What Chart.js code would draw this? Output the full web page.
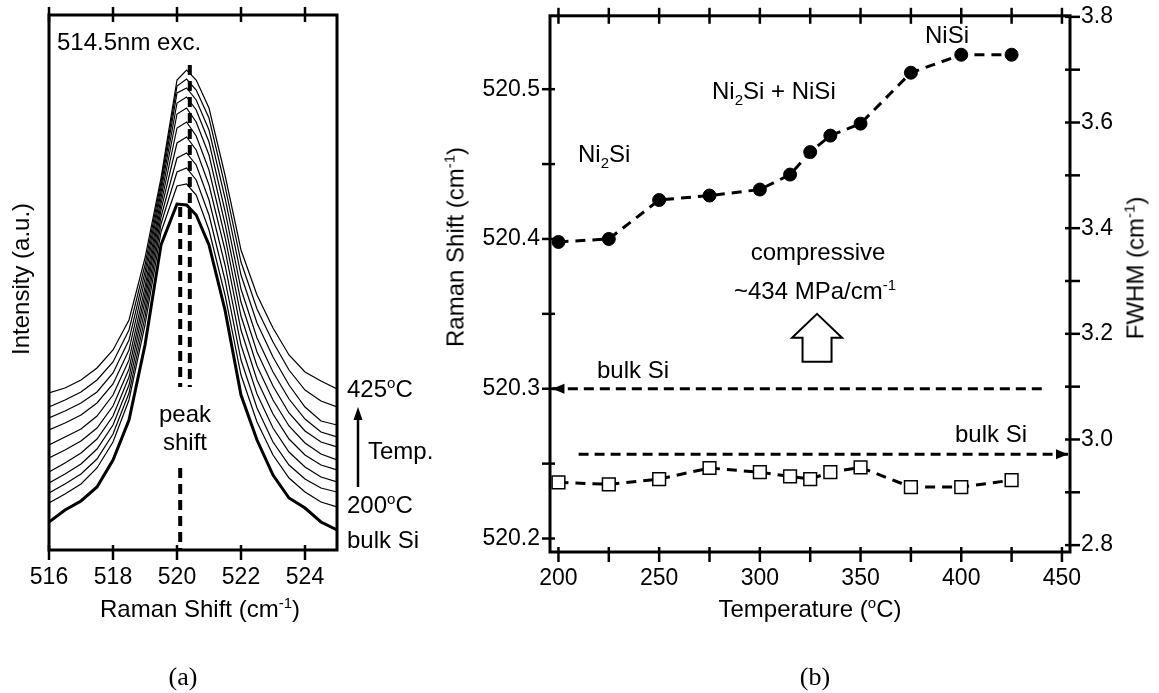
<!DOCTYPE html>
<html>
<head>
<meta charset="utf-8">
<script src="https://cdn.jsdelivr.net/npm/chart.js@4.4.1/dist/chart.umd.min.js"></script>
<style>
  body { margin: 0; background: #fff; }
  #wrap { position: relative; width: 1159px; height: 693px; overflow: hidden; }
  canvas { position: absolute; top: 0; }
  #chartA { left: 0; }
  #chartB { left: 440px; }
  .t { position: absolute; font: 24px "Liberation Sans", Arial, sans-serif; line-height: 24px; white-space: nowrap; color: #000; }
  .c { transform: translateX(-50%); text-align: center; }
  .r { transform: translate(-50%, -50%) rotate(-90deg); }
  .sup { font-size: 15px; position: relative; top: -9px; }
  .sub { font-size: 15px; position: relative; top: 6px; }
  .lab { position: absolute; font: 26px "Liberation Serif", "Times New Roman", serif; transform: translate(-50%, -50%); }
</style>
</head>
<body>
<div id="wrap">
  <canvas id="chartA" width="440" height="693"></canvas>
  <canvas id="chartB" width="719" height="693"></canvas>

  <div class="t" style="left:57px; top:30px">514.5nm exc.</div>
  <div class="t c" style="left:185px; top:400px; line-height:28px">peak<br>shift</div>
  <div class="t" style="left:347px; top:377px">425<span class="sup">o</span>C</div>
  <div class="t" style="left:368px; top:439px">Temp.</div>
  <div class="t" style="left:347px; top:493px">200<span class="sup">o</span>C</div>
  <div class="t" style="left:347px; top:528px">bulk Si</div>
  <svg style="position:absolute; left:350px; top:400px" width="16" height="90">
    <line x1="8" y1="18" x2="8" y2="87" stroke="#000" stroke-width="2.5"/>
    <polygon points="8,7 3.5,20 12.5,20" fill="#000"/>
  </svg>
  <div class="t c" style="left:200px; top:597px">Raman Shift (cm<span class="sup">-1</span>)</div>
  <div class="t r" style="left:21px; top:279px">Intensity (a.u.)</div>

  <div class="t" style="left:578px; top:142px">Ni<span class="sub">2</span>Si</div>
  <div class="t" style="left:712px; top:79px">Ni<span class="sub">2</span>Si + NiSi</div>
  <div class="t" style="left:925px; top:23px">NiSi</div>
  <div class="t c" style="left:818px; top:240px">compressive</div>
  <div class="t c" style="left:815px; top:279px">~434 MPa/cm<span class="sup">-1</span></div>
  <div class="t" style="left:597px; top:358px">bulk Si</div>
  <div class="t" style="left:955px; top:422px">bulk Si</div>
  <div class="t c" style="left:810px; top:597px">Temperature (<span class="sup">o</span>C)</div>
  <div class="t r" style="left:457px; top:247px">Raman Shift (cm<span class="sup">-1</span>)</div>
  <div class="t r" style="left:1137px; top:268px">FWHM (cm<span class="sup">-1</span>)</div>

  <div class="lab" style="left:183px; top:677px">(a)</div>
  <div class="lab" style="left:815px; top:677px">(b)</div>
</div>

<script>
// (a) Raman spectra, intensity in arbitrary units
const ramanGrid = [516, 516.5, 517, 517.5, 518, 518.5, 519, 519.5, 520, 520.3, 520.6, 521, 521.5, 522, 522.5, 523, 523.5, 524, 524.5, 525];
const ramanTicks = [516, 518, 520, 522, 524];

const specBulk = [28, 40, 49, 63, 90, 130, 205, 305, 346, 345, 335, 305, 240, 155, 110, 75, 52, 42, 28, 20];
const spec200 = [47, 56, 66, 82, 108, 150, 225, 318, 364, 366, 355, 320, 255, 175, 128, 95, 72, 58, 48, 43];
const spec225 = [57, 66, 76, 91, 116, 157, 233, 326, 378, 382, 370, 335, 270, 190, 142, 108, 85, 71, 62, 58];
const spec250 = [67, 76, 86, 101, 125, 165, 241, 333, 392, 397, 385, 350, 285, 205, 156, 122, 98, 83, 73, 68];
const spec275 = [78, 87, 97, 111, 134, 173, 249, 340, 407, 413, 400, 365, 300, 220, 170, 136, 111, 95, 85, 80];
const spec300 = [92, 100, 109, 122, 144, 181, 256, 346, 422, 428, 414, 380, 313, 234, 184, 150, 124, 107, 96, 90];
const spec325 = [105, 113, 121, 134, 155, 190, 263, 352, 436, 442, 428, 395, 326, 248, 198, 164, 137, 119, 108, 103];
const spec350 = [120, 127, 135, 147, 166, 200, 271, 358, 447, 453, 440, 408, 339, 261, 212, 178, 151, 131, 118, 113];
const spec375 = [132, 139, 147, 158, 177, 210, 278, 363, 457, 462, 450, 420, 352, 275, 227, 193, 165, 143, 129, 125];
const spec400 = [143, 150, 158, 170, 188, 220, 285, 368, 464, 471, 460, 432, 364, 288, 241, 208, 180, 160, 149, 143];
const spec425 = [157, 162, 170, 182, 200, 230, 292, 372, 470, 480, 470, 442, 375, 300, 255, 222, 195, 178, 169, 161];

// peak position markers (x = cm-1, y = intensity span)
const peakBulkUpper = [{ x: 520.1, y: 343 }, { x: 520.1, y: 163 }];
const peakBulkLower = [{ x: 520.1, y: 82 }, { x: 520.1, y: 0 }];
const peakFilm = [{ x: 520.4, y: 485 }, { x: 520.4, y: 163 }];

// (b) Raman shift and FWHM vs anneal temperature
const temps = [200, 225, 250, 275, 300, 315, 325, 335, 350, 375, 400, 425];
const ramanShift = [520.398, 520.4, 520.426, 520.429, 520.433, 520.443, 520.458, 520.469, 520.477, 520.511, 520.523, 520.523];
const fwhm = [2.919, 2.915, 2.925, 2.946, 2.938, 2.93, 2.925, 2.938, 2.947, 2.91, 2.91, 2.923];

const tempTicks = [200, 225, 250, 275, 300, 325, 350, 375, 400, 425, 450];
const tempTickLabels = ["200", "", "250", "", "300", "", "350", "", "400", "", "450"];
const shiftTicks = [520.2, 520.25, 520.3, 520.35, 520.4, 520.45, 520.5];
const shiftTickLabels = ["520.2", "", "520.3", "", "520.4", "", "520.5"];
const fwhmTicks = [2.8, 2.9, 3.0, 3.1, 3.2, 3.3, 3.4, 3.5, 3.6, 3.7, 3.8];
const fwhmTickLabels = ["2.8", "", "3.0", "", "3.2", "", "3.4", "", "3.6", "", "3.8"];

const bulkSiShift = [{ x: 440, y: 520.3 }, { x: 197, y: 520.3 }];
const bulkSiFwhm = [{ x: 210, y: 2.972 }, { x: 453, y: 2.972 }];

const tickFont = { family: "'Liberation Sans', Arial, sans-serif", size: 23 };

// box around plot area + ticks crossing the axis lines
const frameTicks = {
  id: "frameTicks",
  afterDatasetsDraw(chart, args, opts) {
    const { ctx, chartArea: a } = chart;
    ctx.save();
    ctx.strokeStyle = "#000";
    ctx.lineWidth = 2.5;
    (opts.marks || []).forEach((m) => {
      const scale = chart.scales[m.scale];
      scale.ticks.forEach((t) => {
        const p = scale.getPixelForValue(t.value);
        ctx.beginPath();
        if (m.side === "bottom") { ctx.moveTo(p, a.bottom - m.inner); ctx.lineTo(p, a.bottom + m.outer); }
        if (m.side === "top") { ctx.moveTo(p, a.top + m.inner); ctx.lineTo(p, a.top - m.outer); }
        if (m.side === "left") { ctx.moveTo(a.left + m.inner, p); ctx.lineTo(a.left - m.outer, p); }
        if (m.side === "right") { ctx.moveTo(a.right - m.inner, p); ctx.lineTo(a.right + m.outer, p); }
        ctx.stroke();
      });
    });
    ctx.lineWidth = 3;
    ctx.strokeRect(a.left, a.top, a.right - a.left, a.bottom - a.top);
    ctx.restore();
  },
};

// arrow heads on the "bulk Si" lines and the open "compressive" arrow
const arrowMarks = {
  id: "arrowMarks",
  afterDatasetsDraw(chart, args, opts) {
    const { ctx } = chart;
    ctx.save();
    ctx.fillStyle = "#000";
    opts.heads.forEach((i) => {
      const pts = chart.getDatasetMeta(i).data;
      const tip = pts[pts.length - 1];
      const from = pts[pts.length - 2];
      ctx.save();
      ctx.translate(tip.x, tip.y);
      ctx.rotate(Math.atan2(tip.y - from.y, tip.x - from.x));
      ctx.beginPath();
      ctx.moveTo(0, 0);
      ctx.lineTo(-12, -5);
      ctx.lineTo(-12, 5);
      ctx.closePath();
      ctx.fill();
      ctx.restore();
    });

    const x = chart.scales.x.getPixelForValue(opts.open.x);
    const y = chart.scales.y.getPixelForValue(opts.open.y);
    ctx.strokeStyle = "#000";
    ctx.lineWidth = 2;
    ctx.fillStyle = "#fff";
    ctx.beginPath();
    ctx.moveTo(x, y);
    ctx.lineTo(x + 25, y + 24);
    ctx.lineTo(x + 14.5, y + 24);
    ctx.lineTo(x + 14.5, y + 48);
    ctx.lineTo(x - 14.5, y + 48);
    ctx.lineTo(x - 14.5, y + 24);
    ctx.lineTo(x - 25, y + 24);
    ctx.closePath();
    ctx.fill();
    ctx.stroke();
    ctx.restore();
  },
};

const specList = [spec425, spec400, spec375, spec350, spec325, spec300, spec275, spec250, spec225, spec200];
const toPoints = (arr) => arr.map((v, i) => ({ x: ramanGrid[i], y: v }));

const specSets = specList.map((s) => ({
  data: toPoints(s),
  borderColor: "#000",
  borderWidth: 1.2,
  pointRadius: 0,
}));
specSets.push({ data: toPoints(specBulk), borderColor: "#000", borderWidth: 3, pointRadius: 0 });
[peakBulkUpper, peakBulkLower, peakFilm].forEach((p) => {
  specSets.push({ data: p, borderColor: "#000", borderWidth: 4, borderDash: [10, 6], pointRadius: 0 });
});

new Chart(document.getElementById("chartA"), {
  type: "line",
  data: { datasets: specSets },
  plugins: [frameTicks],
  options: {
    responsive: false,
    animation: false,
    devicePixelRatio: 1,
    events: [],
    layout: { padding: { top: 15, right: 103, left: 0, bottom: 0 } },
    plugins: {
      legend: { display: false },
      tooltip: { enabled: false },
      frameTicks: {
        marks: [
          { scale: "x", side: "bottom", inner: 5, outer: 10 },
          { scale: "x", side: "top", inner: 7, outer: 8 },
        ],
      },
    },
    scales: {
      x: {
        type: "linear",
        min: 516,
        max: 525,
        afterBuildTicks: (s) => { s.ticks = ramanTicks.map((v) => ({ value: v })); },
        afterFit: (s) => { s.height = 143; },
        grid: { display: false, tickLength: 10 },
        border: { display: false },
        ticks: { font: tickFont, color: "#000", padding: 4, maxRotation: 0, autoSkip: false },
      },
      y: {
        min: 0,
        max: 535,
        afterFit: (s) => { s.width = 49; },
        grid: { display: false },
        border: { display: false },
        ticks: { display: false },
      },
    },
  },
});

new Chart(document.getElementById("chartB"), {
  type: "line",
  data: {
    datasets: [
      {
        data: temps.map((t, i) => ({ x: t, y: ramanShift[i] })),
        yAxisID: "y",
        borderColor: "#000",
        borderWidth: 3,
        borderDash: [10, 7],
        pointStyle: "circle",
        pointRadius: 6.5,
        pointBackgroundColor: "#000",
        pointBorderColor: "#000",
        pointBorderWidth: 1,
      },
      {
        data: temps.map((t, i) => ({ x: t, y: fwhm[i] })),
        yAxisID: "y2",
        borderColor: "#000",
        borderWidth: 3,
        borderDash: [10, 7],
        pointStyle: "rect",
        pointRadius: 9,
        pointBackgroundColor: "#fff",
        pointBorderColor: "#000",
        pointBorderWidth: 1.5,
      },
      {
        data: bulkSiShift,
        yAxisID: "y",
        borderColor: "#000",
        borderWidth: 3,
        borderDash: [10, 6],
        pointRadius: 0,
      },
      {
        data: bulkSiFwhm,
        yAxisID: "y2",
        borderColor: "#000",
        borderWidth: 3,
        borderDash: [10, 6],
        pointRadius: 0,
      },
    ],
  },
  plugins: [frameTicks, arrowMarks],
  options: {
    responsive: false,
    animation: false,
    devicePixelRatio: 1,
    events: [],
    layout: { padding: { top: 15, right: 0, left: 0, bottom: 0 } },
    plugins: {
      legend: { display: false },
      tooltip: { enabled: false },
      frameTicks: {
        marks: [
          { scale: "x", side: "bottom", inner: 5, outer: 10 },
          { scale: "x", side: "top", inner: 8, outer: 8 },
          { scale: "y", side: "left", inner: 5, outer: 8 },
          { scale: "y2", side: "right", inner: 5, outer: 10 },
        ],
      },
      arrowMarks: { heads: [2, 3], open: { x: 328.4, y: 520.35 } },
    },
    scales: {
      x: {
        type: "linear",
        min: 195.8,
        max: 454,
        afterBuildTicks: (s) => { s.ticks = tempTicks.map((v) => ({ value: v })); },
        afterFit: (s) => { s.height = 141; },
        grid: { display: false, tickLength: 10 },
        border: { display: false },
        ticks: {
          font: tickFont, color: "#000", padding: 3, maxRotation: 0, autoSkip: false,
          callback: (v, i) => tempTickLabels[i],
        },
      },
      y: {
        position: "left",
        min: 520.191,
        max: 520.549,
        afterBuildTicks: (s) => { s.ticks = shiftTicks.map((v) => ({ value: v })); },
        afterFit: (s) => { s.width = 110; },
        grid: { display: false, tickLength: 8 },
        border: { display: false },
        ticks: { font: tickFont, color: "#000", padding: 2, autoSkip: false, callback: (v, i) => shiftTickLabels[i] },
      },
      y2: {
        position: "right",
        min: 2.787,
        max: 3.802,
        afterBuildTicks: (s) => { s.ticks = fwhmTicks.map((v) => ({ value: v })); },
        afterFit: (s) => { s.width = 89; },
        grid: { display: false, tickLength: 10 },
        border: { display: false },
        ticks: { font: tickFont, color: "#000", padding: 1, autoSkip: false, callback: (v, i) => fwhmTickLabels[i] },
      },
    },
  },
});
</script>
</body>
</html>
